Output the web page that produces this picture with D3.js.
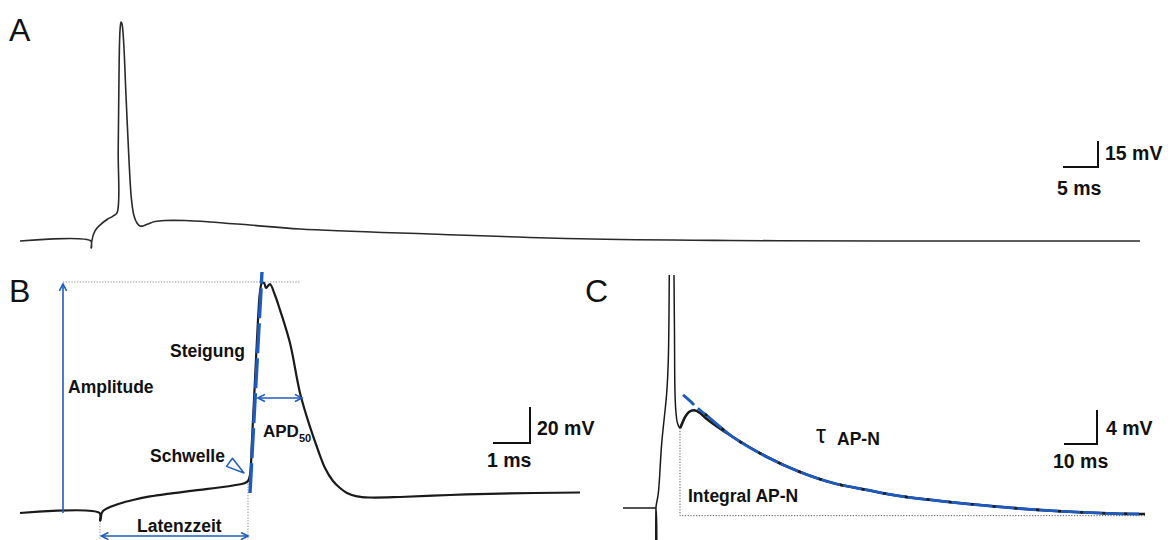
<!DOCTYPE html>
<html><head><meta charset="utf-8">
<script src="https://cdn.jsdelivr.net/npm/d3@7"></script>
<style>
body{margin:0;background:#fff}
svg{display:block}
text{font-family:"Liberation Sans",Arial,Helvetica,sans-serif}
</style>
</head><body>
<svg id="fig" width="1173" height="540"></svg>
<script>
// ---------------- DATA ----------------
// Panel A: full action potential with afterpotential (time in ms, voltage in mV)
const traceA_ms = [0,10.12,10.16,10.20,10.24,10.71,11.43,12.43,13.29,13.86,14.03,14.17,14.29,14.43,14.57,14.79,15.14,15.57,15.93,16.29,16.71,17.14,17.57,18.29,19.29,20.71,23.57,27.14,32.86,40.0,58.57,80.0,101.4,122.9,160];
const traceA_mV = [-70,-70,-74,-74,-70.3,-64.2,-60.8,-57.6,-55.6,-53.8,-17.5,34.4,51.7,56.3,55.2,46.0,14.2,-23.3,-46.3,-55.6,-59.6,-61.3,-61.3,-60.2,-58.8,-58.2,-58.2,-59.0,-60.8,-63.1,-66.0,-68.7,-69.7,-70,-70];

// Panel B: single action potential, expanded time base
const traceB_ms = [0,2.150,2.162,2.176,2.20,2.243,2.432,2.703,3.054,3.514,3.973,4.865,5.757,6.081,6.162,6.216,6.27,6.351,6.432,6.486,6.54,6.595,6.649,6.70,6.757,6.89,7.027,7.297,7.568,7.838,8.054,8.243,8.459,8.649,8.838,9.108,9.459,10.27,11.62,12.97,15.135];
const traceB_mV = [-70,-70,-74.2,-73.9,-70.6,-68.9,-66.7,-64.7,-62.8,-60.8,-59.4,-57.2,-54.7,-53.3,-52.2,-48.9,-29.4,3.9,37.2,52.8,57.8,57.8,55.0,56.1,57.2,51.1,42.8,24.4,-3.3,-22.2,-35,-45,-52.2,-56.1,-58.9,-60.8,-61.4,-61.1,-60.0,-59.2,-58.6];
const slopeLine_ms = [6.216, 6.54];
const slopeLine_mV = [-58.9, 63.9];
const amplitude_ms = 1.162, amplitudePeak_mV = 57.8, baseline_mV = -70;
const peakGuide_ms = [1.162, 7.57];
const apd50_ms = [6.43, 7.62], apd50_mV = -6.1;
const latency_ms = [2.2, 6.162], latencyArrow_mV = -82.8;
const threshold = [6.162, -52.2];

// Panel C: afterpotential (AP-N) with exponential fit
const traceC_ms = [0,9.7,9.9,9.95,10.0,10.1,10.7,11.73,13.24,13.73,14.03,14.2,15.3,15.45,15.6,15.76,16.06,16.5,17.27,17.88,18.79,20.0,21.5,23.3,25.0,33.33,43.64,53.64,63.64,73.94,83.94,108.2,128.5,148.5,158.2];
const traceC_mV = [-70,-70,-70,-82,-70,-69.6,-68.27,-62.39,-56.5,-52.6,-42.6,-30,-30,-42.6,-49.1,-56.5,-58.8,-60,-60.6,-60.1,-59.3,-58.7,-58.5,-58.8,-59.4,-61.65,-64,-65.76,-67.06,-67.88,-68.59,-69.65,-70.29,-70.65,-70.7];
const fitC_ms = [18.18,20.3,22.4,24.85,33.33,43.64,53.64,63.64,73.94,83.94,108.2,128.5,148.5,156.4];
const fitC_mV = [-56.7,-57.4,-58.2,-58.94,-61.65,-64,-65.76,-67.06,-67.88,-68.59,-69.65,-70.29,-70.65,-70.7];
const integralStart_ms = 17.27, integralEnd_ms = 158.2, integralTrough_mV = -60.6, integralBase_mV = -70.9;

// Scale bars
const scaleBarMs = [5, 1, 10];
const scaleBarMv = [15, 20, 4];
const scaleBarMsLabels = ["5 ms", "1 ms", "10 ms"];
const scaleBarMvLabels = ["15 mV", "20 mV", "4 mV"];
const panelLabels = ["A", "B", "C"];

// ---------------- DRAWING ----------------
const svg = d3.select("#fig");
const BLUE = "#1f5bbf";
const INK = "#1a1a1a";

const xA = d3.scaleLinear().domain([0,160]).range([20,1140]);
const yA = d3.scaleLinear().domain([-70,-55]).range([241,215]);
const xB = d3.scaleLinear().domain([0,15.135]).range([20,580]);
const yB = d3.scaleLinear().domain([-70,-50]).range([513,477]);
const xC = d3.scaleLinear().domain([0,158.2]).range([623,1145]);
const yC = d3.scaleLinear().domain([-70,-66]).range([508,474]);

const defs = svg.append("defs");
defs.append("clipPath").attr("id","clipC").append("rect").attr("x",600).attr("y",275).attr("width",573).attr("height",265);
defs.append("marker").attr("id","arr").attr("viewBox","-10 -6 12 12")
  .attr("markerWidth",12).attr("markerHeight",12).attr("refX",0).attr("refY",0)
  .attr("markerUnits","userSpaceOnUse").attr("orient","auto-start-reverse")
  .append("path").attr("d","M-7,-3.6 L0,0 L-7,3.6").attr("fill","none").attr("stroke",BLUE).attr("stroke-width",1.6);

function zipLine(ts, vs, x, y, curve){
  const pts = ts.map((t,i)=>[t, vs[i]]);
  return d3.line().x(d=>x(d[0])).y(d=>y(d[1])).curve(curve || d3.curveCatmullRom.alpha(0.5))(pts);
}

// Panel labels
const labelPos = [[9,41],[9,302],[585,302]];
panelLabels.forEach((l,i)=>{
  svg.append("text").attr("x",labelPos[i][0]).attr("y",labelPos[i][1]).attr("font-size",32).attr("fill","#111").text(l);
});

// ---- Panel A ----
svg.append("path").attr("d", zipLine(traceA_ms, traceA_mV, xA, yA))
  .attr("fill","none").attr("stroke","#2a2a2a").attr("stroke-width",1.6).attr("stroke-linejoin","round");

// ---- Panel B ----
// grey dotted guides
svg.append("line").attr("x1",xB(peakGuide_ms[0])).attr("x2",xB(peakGuide_ms[1]))
  .attr("y1",yB(amplitudePeak_mV)-1).attr("y2",yB(amplitudePeak_mV)-1)
  .attr("stroke","#8a8a8a").attr("stroke-width",1).attr("stroke-dasharray","1.2,1.6");
svg.append("line").attr("x1",xB(latency_ms[1])).attr("x2",xB(latency_ms[1]))
  .attr("y1",yB(threshold[1])).attr("y2",540)
  .attr("stroke","#8a8a8a").attr("stroke-width",1).attr("stroke-dasharray","1.2,1.6");
svg.append("line").attr("x1",xB(traceB_ms[2])).attr("x2",xB(traceB_ms[2]))
  .attr("y1",yB(traceB_mV[2])).attr("y2",540)
  .attr("stroke","#8a8a8a").attr("stroke-width",1).attr("stroke-dasharray","1.2,1.6");

svg.append("path").attr("d", zipLine(traceB_ms, traceB_mV, xB, yB))
  .attr("fill","none").attr("stroke",INK).attr("stroke-width",2.2).attr("stroke-linejoin","round");

// amplitude arrow
svg.append("line").attr("x1",xB(amplitude_ms)).attr("x2",xB(amplitude_ms))
  .attr("y1",yB(baseline_mV)).attr("y2",yB(amplitudePeak_mV)+1)
  .attr("stroke",BLUE).attr("stroke-width",1.6).attr("marker-end","url(#arr)");
// slope dashed line
svg.append("line").attr("x1",xB(slopeLine_ms[0])).attr("y1",yB(slopeLine_mV[0]))
  .attr("x2",xB(slopeLine_ms[1])).attr("y2",yB(slopeLine_mV[1]))
  .attr("stroke",BLUE).attr("stroke-width",3.4).attr("stroke-dasharray","30,5");
// APD50 arrow
svg.append("line").attr("x1",xB(apd50_ms[0])).attr("x2",xB(apd50_ms[1]))
  .attr("y1",yB(apd50_mV)).attr("y2",yB(apd50_mV))
  .attr("stroke",BLUE).attr("stroke-width",1.6).attr("marker-start","url(#arr)").attr("marker-end","url(#arr)");
// latency arrow
svg.append("line").attr("x1",xB(latency_ms[0])).attr("x2",xB(latency_ms[1]))
  .attr("y1",yB(latencyArrow_mV)).attr("y2",yB(latencyArrow_mV))
  .attr("stroke",BLUE).attr("stroke-width",1.6).attr("marker-start","url(#arr)").attr("marker-end","url(#arr)");
// threshold marker (open triangle pointing to threshold)
{
  const tx = xB(threshold[0]) - 4, ty = yB(threshold[1]) - 8;
  const ang = Math.atan2(11, 15);
  const L = 18, W = 5;
  const bx = tx - L*Math.cos(ang), by = ty - L*Math.sin(ang);
  const px = -Math.sin(ang)*W, py = Math.cos(ang)*W;
  svg.append("path").attr("d",`M${tx},${ty} L${bx+px},${by+py} L${bx-px},${by-py} Z`)
    .attr("fill","#fff").attr("stroke",BLUE).attr("stroke-width",1.5).attr("stroke-linejoin","round");
}

const lab = (x,y,t,size,weight)=>svg.append("text").attr("x",x).attr("y",y).attr("font-size",size||17.5)
  .attr("font-weight",weight||"bold").attr("fill","#111").text(t);
lab(68,393,"Amplitude");
lab(170,357,"Steigung");
lab(150,462,"Schwelle");
lab(137,532,"Latenzzeit");
{
  const t = svg.append("text").attr("x",263).attr("y",437).attr("font-size",17).attr("font-weight","bold").attr("fill","#111");
  t.append("tspan").text("APD");
  t.append("tspan").attr("font-size",11).attr("dy",5).text("50");
}

// ---- Panel C ----
const gC = svg.append("g").attr("clip-path","url(#clipC)");
// integral box (dotted)
svg.append("path")
  .attr("d",`M${xC(integralStart_ms)},${yC(integralTrough_mV)} L${xC(integralStart_ms)},${yC(integralBase_mV)} L${xC(integralEnd_ms)},${yC(integralBase_mV)}`)
  .attr("fill","none").attr("stroke","#555").attr("stroke-width",1).attr("stroke-dasharray","1.2,1.6");
gC.append("path").attr("d", zipLine(traceC_ms, traceC_mV, xC, yC))
  .attr("fill","none").attr("stroke",INK).attr("stroke-width",1.5).attr("stroke-linejoin","round");
// thicker trace after the hump
const iHump = traceC_ms.indexOf(17.27);
gC.append("path").attr("d", zipLine(traceC_ms.slice(iHump), traceC_mV.slice(iHump), xC, yC))
  .attr("fill","none").attr("stroke",INK).attr("stroke-width",2.6).attr("stroke-linejoin","round");
// exponential fit
gC.append("path").attr("d", zipLine(fitC_ms, fitC_mV, xC, yC))
  .attr("fill","none").attr("stroke",BLUE).attr("stroke-width",2.8)
  .attr("stroke-dasharray","15,5,2000");
// black noise specks visible over the fit
gC.append("path").attr("d", zipLine(fitC_ms.slice(3), fitC_mV.slice(3), xC, yC))
  .attr("fill","none").attr("stroke",INK).attr("stroke-width",2.4)
  .attr("stroke-dasharray","3,19");

svg.append("text").attr("x",816).attr("y",443).attr("font-size",25).attr("fill","#111").text("τ");
lab(837,445,"AP-N");
lab(688,502,"Integral AP-N");

// ---- Scale bars ----
const bars = [
  {corner:[1098,167], x:xA, y:yA, lab:[1105,160], labms:[1057,195]},
  {corner:[530,443],  x:xB, y:yB, lab:[537,435],  labms:[487,467]},
  {corner:[1097,444], x:xC, y:yC, lab:[1106,435], labms:[1053,468]}
];
bars.forEach((b,i)=>{
  const w = b.x(scaleBarMs[i]) - b.x(0);
  const h = b.y(0) - b.y(scaleBarMv[i]);
  const [cx,cy] = b.corner;
  svg.append("path").attr("d",`M${cx-w},${cy} L${cx},${cy} L${cx},${cy-h}`)
    .attr("fill","none").attr("stroke","#111").attr("stroke-width",2);
  svg.append("text").attr("x",b.lab[0]).attr("y",b.lab[1]).attr("font-size",19.5).attr("font-weight","bold").attr("fill","#111").text(scaleBarMvLabels[i]);
  svg.append("text").attr("x",b.labms[0]).attr("y",b.labms[1]).attr("font-size",19.5).attr("font-weight","bold").attr("fill","#111").text(scaleBarMsLabels[i]);
});
</script>
</body></html>
